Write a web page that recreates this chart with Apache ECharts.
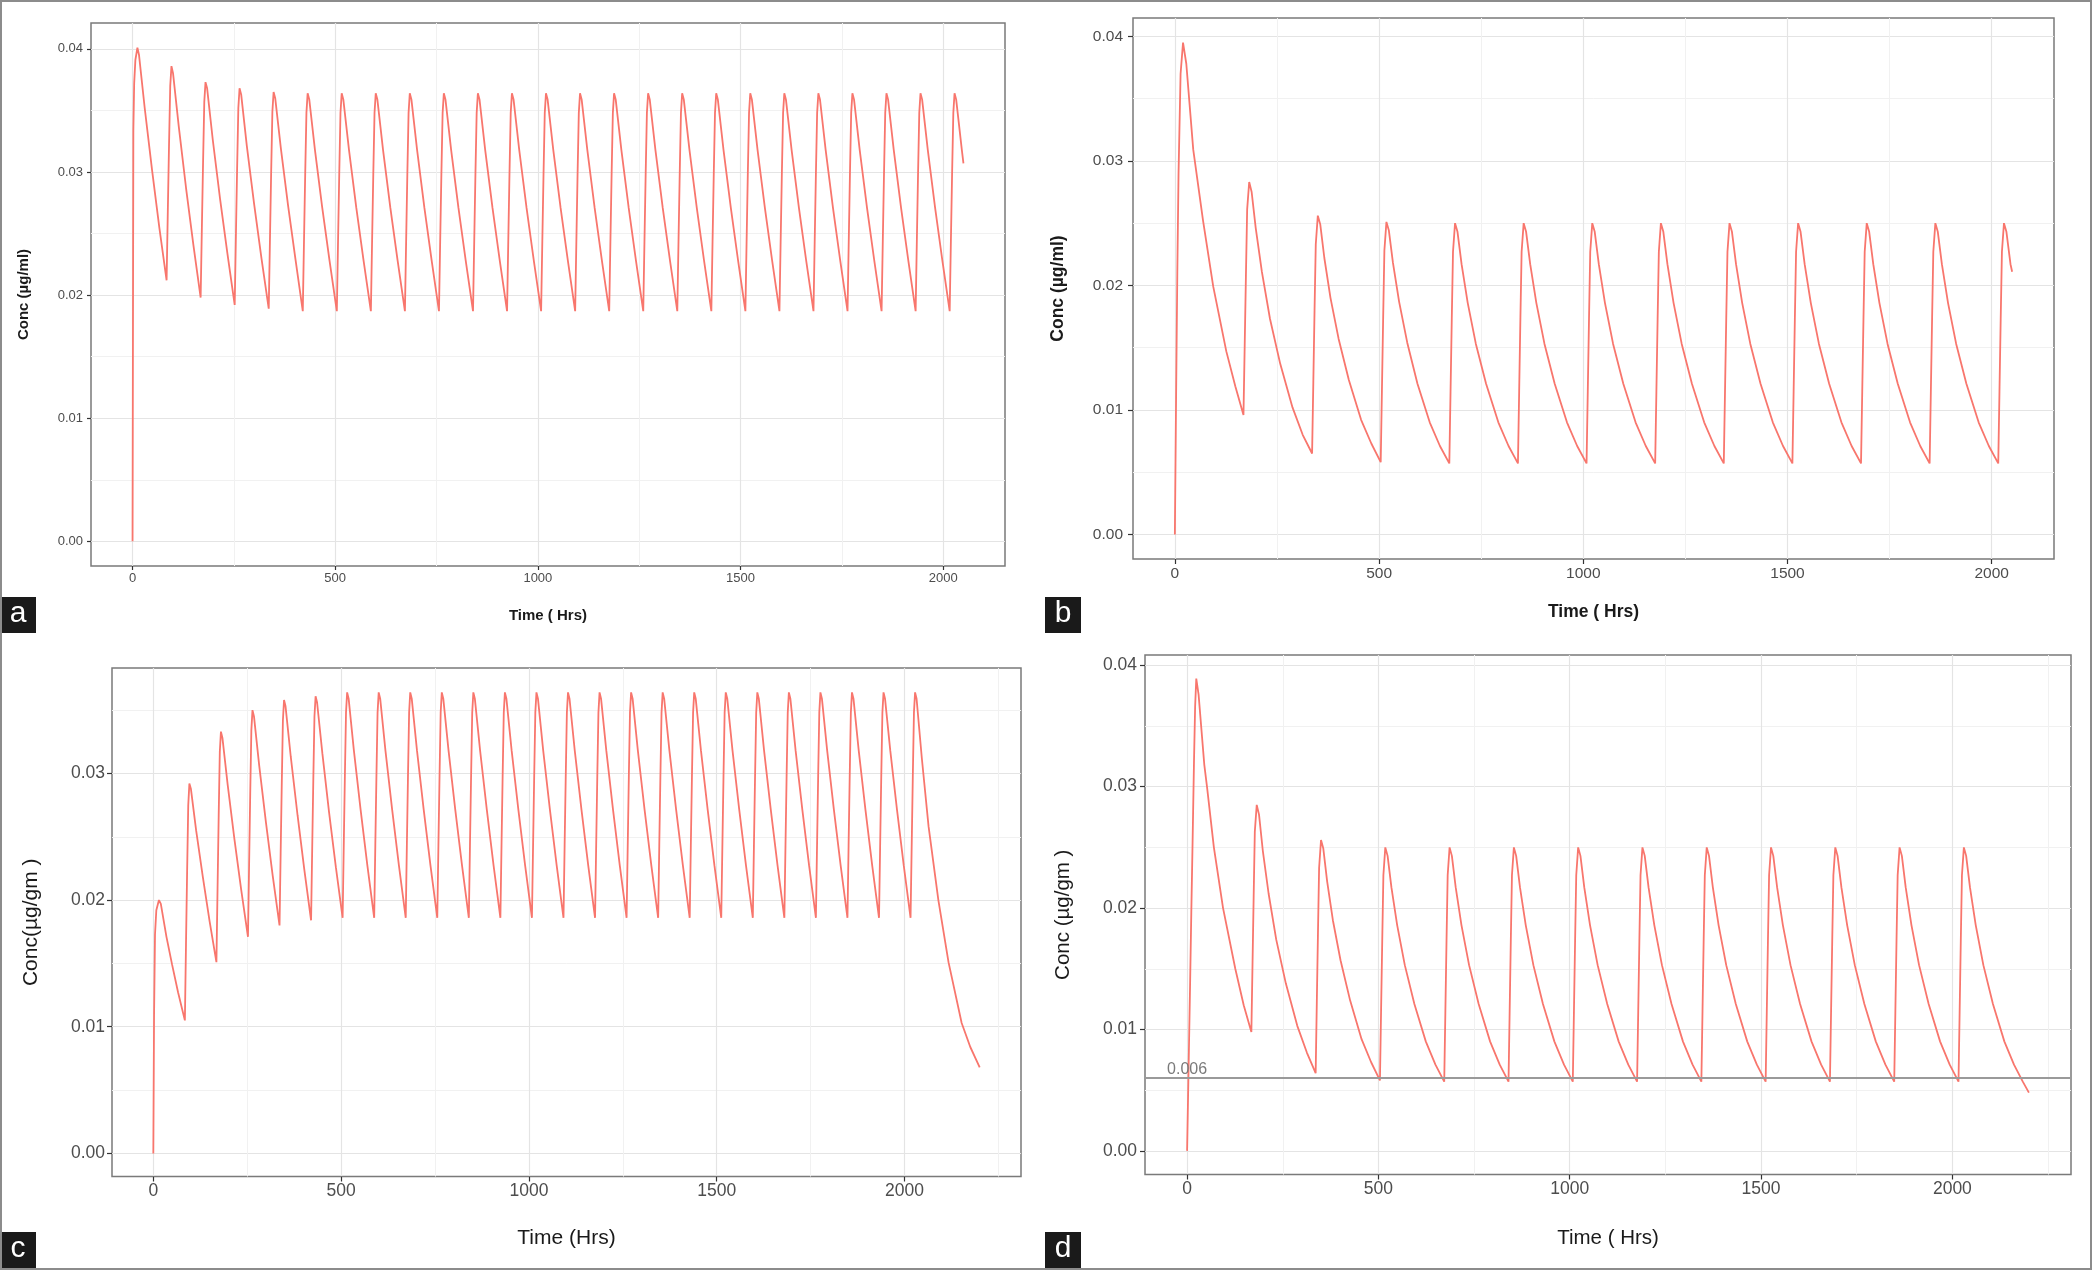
<!DOCTYPE html>
<html><head><meta charset="utf-8">
<script src="https://cdn.jsdelivr.net/npm/echarts@6/dist/echarts.min.js"></script>
<style>html,body{margin:0;padding:0;background:#fff}#chart{width:2092px;height:1270px}</style>
</head><body><div id="chart"></div>
<script>
// ---------- tick labels ----------
const xTicks = [0, 500, 1000, 1500, 2000];
const xMinorAB = [250, 750, 1250, 1750];
const xMinorCD = [250, 750, 1250, 1750, 2250];
const yTicks4 = [0, 0.01, 0.02, 0.03, 0.04];
const yTicks3 = [0, 0.01, 0.02, 0.03];
const yMinor = [0.005, 0.015, 0.025, 0.035];

// ---------- panel a (dose every 84 h) ----------
const aFirst = [[0,0],[2,0.0334],[4,0.0372],[7,0.0391],[12,0.0401],[16,0.0395],[30,0.0352],[48,0.0302],[66,0.0255]];
const aOffsets = [0,3,6,9,12,16,30,48,66];
const aDoses = [84,168,252,336,420,504,588,672,756,840,924,1008,1092,1176,1260,1344,1428,1512,1596,1680,1764,1848,1932,2016];
const a2 = [0.0212,0.0268,0.0322,0.0370,0.0386,0.0380,0.0337,0.0287,0.0241];
const a3 = [0.0198,0.0254,0.0308,0.0357,0.0373,0.0368,0.0326,0.0278,0.0234];
const a4 = [0.0192,0.0248,0.0303,0.0352,0.0368,0.0363,0.0321,0.0274,0.0230];
const a5 = [0.0189,0.0245,0.0300,0.0349,0.0365,0.0360,0.0319,0.0272,0.0229];
const aSteady = [0.0187,0.0244,0.0299,0.0348,0.0364,0.0359,0.0318,0.0271,0.0228];
const aTail = [[2050,0.0307]];

// ---------- panel b (dose every 168 h) ----------
const bFirst = [[0,0],[3,0.0110],[6,0.0210],[9,0.0290],[14,0.0370],[20,0.0395],[28,0.0378],[45,0.0309],[69,0.0252],[94,0.0199],[126,0.0147],[148,0.0119]];
const bOffsets = [0,3,6,9,14,20,30,45,65,90,120,145];
const bDoses = [168,336,504,672,840,1008,1176,1344,1512,1680,1848,2016];
const b2 = [0.0096,0.0152,0.0208,0.0261,0.0283,0.0275,0.0246,0.0211,0.0173,0.0137,0.0102,0.0080];
const b3 = [0.0065,0.0122,0.0180,0.0233,0.0256,0.0249,0.0222,0.0190,0.0157,0.0124,0.0092,0.0073];
const b4 = [0.0058,0.0116,0.0174,0.0228,0.0251,0.0244,0.0218,0.0187,0.0154,0.0121,0.0090,0.0071];
const bSteady = [0.0057,0.0115,0.0173,0.0227,0.0250,0.0243,0.0217,0.0186,0.0153,0.0121,0.0090,0.0071];
const bTail = [[2050,0.0211]];

// ---------- panel c (dose every 84 h, washout tail) ----------
const cFirst = [[0,0],[2,0.0110],[4.5,0.0173],[8,0.0192],[15,0.0200],[20,0.0197],[35,0.0171],[50,0.0149],[66,0.0127]];
const cOffsets = [0,3,6,9,12,16,30,48,66];
const cDoses = [84,168,252,336,420,504,588,672,756,840,924,1008,1092,1176,1260,1344,1428,1512,1596,1680,1764,1848,1932];
const c2 = [0.0105,0.0165,0.0223,0.0275,0.0292,0.0288,0.0255,0.0218,0.0183];
const c3 = [0.0151,0.0209,0.0266,0.0317,0.0333,0.0328,0.0291,0.0248,0.0208];
const c4 = [0.0171,0.0228,0.0284,0.0334,0.0350,0.0345,0.0306,0.0261,0.0219];
const c5 = [0.0180,0.0237,0.0292,0.0342,0.0358,0.0353,0.0313,0.0267,0.0224];
const c6 = [0.0184,0.0241,0.0296,0.0345,0.0361,0.0356,0.0316,0.0269,0.0226];
const cSteady = [0.0186,0.0243,0.0298,0.0348,0.0364,0.0359,0.0318,0.0271,0.0227];
const cTail = [[2016,0.0186],[2019,0.0243],[2022,0.0298],[2025,0.0348],[2028,0.0364],[2032,0.0359],[2046,0.0312],[2064,0.0258],[2090,0.0200],[2117,0.0151],[2152,0.0103],[2175,0.0084],[2200,0.0068]];

// ---------- panel d (dose every 168 h, washout tail, 0.006 threshold) ----------
const dFirst = [[0,0],[4,0.0070],[8,0.0140],[11,0.0196],[14,0.0248],[18,0.0320],[21,0.0366],[24,0.0389],[30,0.0376],[45,0.0318],[52,0.0300],[70,0.0250],[94,0.0200],[126,0.0150],[148,0.0120]];
const dOffsets = [0,3,6,9,14,20,30,45,65,90,120,145];
const dDoses = [168,336,504,672,840,1008,1176,1344,1512,1680,1848,2016];
const d2 = [0.0098,0.0154,0.0210,0.0263,0.0285,0.0277,0.0247,0.0212,0.0174,0.0138,0.0103,0.0081];
const d3 = [0.0064,0.0122,0.0179,0.0233,0.0256,0.0249,0.0222,0.0190,0.0157,0.0124,0.0092,0.0073];
const d4 = [0.0058,0.0116,0.0173,0.0227,0.0250,0.0243,0.0217,0.0186,0.0153,0.0121,0.0090,0.0071];
const dSteady = [0.0057,0.0115,0.0173,0.0227,0.0250,0.0243,0.0217,0.0186,0.0153,0.0121,0.0090,0.0071];
const dTail = [[2184,0.0057],[2200,0.0048]];
const dThreshold = 0.006;
const dThresholdLabel = {x:0, y:0.00668, text:'0.006'};

// ---------- build ----------
const rep = (v, n) => Array.from({length: n}, () => v);
const aCycles = [a2, a3, a4, a5].concat(rep(aSteady, 20));
const bCycles = [b2, b3, b4].concat(rep(bSteady, 9));
const cCycles = [c2, c3, c4, c5, c6].concat(rep(cSteady, 18));
const dCycles = [d2, d3, d4].concat(rep(dSteady, 9));

function build(first, doses, offsets, cycles, tail) {
  const limit = tail[0][0];
  const pts = first.slice();
  doses.forEach((t0, i) => {
    offsets.forEach((o, j) => {
      if (t0 + o < limit) pts.push([t0 + o, cycles[i][j]]);
    });
  });
  return pts.concat(tail);
}
const aData = build(aFirst, aDoses, aOffsets, aCycles, aTail);
const bData = build(bFirst, bDoses, bOffsets, bCycles, bTail);
const cData = build(cFirst, cDoses, cOffsets, cCycles, cTail);
const dData = build(dFirst, dDoses, dOffsets, dCycles, dTail);

const FONT = 'Liberation Sans, Arial, sans-serif';
const LINE = '#F8766D';

const panels = [
  {grid:{left:91, top:23, width:914, height:543}, xr:[-102.5,2152.5], yr:[-0.002005,0.042105],
   yt:yTicks4, xm:xMinorAB, lab:13, tick:4, ym:8, xmg:6,
   xName:'Time ( Hrs)', yName:'Conc (µg/ml)', nameSize:15, bold:true, xGap:42, yGap:60, data:aData},
  {grid:{left:1133, top:18, width:921, height:541}, xr:[-102.5,2152.5], yr:[-0.001975,0.041475],
   yt:yTicks4, xm:xMinorAB, lab:15.5, tick:5, ym:10, xmg:7,
   xName:'Time ( Hrs)', yName:'Conc (µg/ml)', nameSize:17.5, bold:true, xGap:44, yGap:66, data:bData},
  {grid:{left:112, top:668, width:909, height:508.5}, xr:[-110,2310], yr:[-0.001825,0.038325],
   yt:yTicks3, xm:xMinorCD, lab:17.5, tick:5, ym:7, xmg:6,
   xName:'Time (Hrs)', yName:'Conc(µg/gm )', nameSize:21, bold:false, xGap:51, yGap:70, data:cData},
  {grid:{left:1145, top:655, width:926, height:519.5}, xr:[-110,2310], yr:[-0.001945,0.040845],
   yt:yTicks4, xm:xMinorCD, lab:17.5, tick:5, ym:8, xmg:6,
   xName:'Time ( Hrs)', yName:'Conc (µg/gm )', nameSize:20.5, bold:false, xGap:53, yGap:71, data:dData}
];

const grid = [], xAxis = [], yAxis = [], series = [];
panels.forEach((p, i) => {
  grid.push(Object.assign({show:true, borderColor:'#7a7a7a', borderWidth:1.5, backgroundColor:'#fff', containLabel:false}, p.grid));
  const nameStyle = {fontSize:p.nameSize, fontWeight:p.bold ? 'bold' : 'normal', color:'#1a1a1a', fontFamily:FONT};
  xAxis.push({
    type:'value', gridIndex:i, min:p.xr[0], max:p.xr[1], position:'bottom',
    axisLine:{show:false, onZero:false},
    axisTick:{show:true, inside:false, length:p.tick, customValues:xTicks, lineStyle:{color:'#333', width:1.2}},
    axisLabel:{customValues:xTicks, fontSize:p.lab, color:'#4d4d4d', margin:p.xmg, fontFamily:FONT, formatter:v => String(v)},
    splitLine:{show:true, lineStyle:{color:'#e4e4e4', width:1.2}},
    name:p.xName, nameLocation:'middle', nameGap:p.xGap, nameTextStyle:nameStyle
  });
  xAxis.push({
    type:'value', gridIndex:i, min:p.xr[0], max:p.xr[1], position:'top',
    axisLine:{show:false, onZero:false}, axisTick:{show:false, customValues:p.xm},
    axisLabel:{show:false, customValues:p.xm},
    splitLine:{show:true, lineStyle:{color:'#f1f1f1', width:1}}
  });
  yAxis.push({
    type:'value', gridIndex:i, min:p.yr[0], max:p.yr[1], position:'left',
    axisLine:{show:false, onZero:false},
    axisTick:{show:true, inside:false, length:p.tick, customValues:p.yt, lineStyle:{color:'#333', width:1.2}},
    axisLabel:{customValues:p.yt, fontSize:p.lab, color:'#4d4d4d', margin:p.ym, fontFamily:FONT, formatter:v => v.toFixed(2)},
    splitLine:{show:true, lineStyle:{color:'#e4e4e4', width:1.2}},
    name:p.yName, nameLocation:'middle', nameGap:p.yGap, nameRotate:90, nameTextStyle:nameStyle
  });
  yAxis.push({
    type:'value', gridIndex:i, min:p.yr[0], max:p.yr[1], position:'right',
    axisLine:{show:false, onZero:false}, axisTick:{show:false, customValues:yMinor},
    axisLabel:{show:false, customValues:yMinor},
    splitLine:{show:true, lineStyle:{color:'#f1f1f1', width:1}}
  });
  const s = {
    type:'line', xAxisIndex:2*i, yAxisIndex:2*i, data:p.data, showSymbol:false, symbol:'none',
    lineStyle:{color:LINE, width:1.8}, itemStyle:{color:LINE}, silent:true, z:3
  };
  if (i === 3) {
    s.markLine = {silent:true, symbol:'none', precision:4, label:{show:false},
      lineStyle:{color:'#9a9a9a', width:1.8, type:'solid'}, data:[{yAxis:dThreshold}], animation:false};
    s.markPoint = {silent:true, symbol:'circle', symbolSize:0,
      data:[{coord:[dThresholdLabel.x, dThresholdLabel.y], value:dThresholdLabel.text}],
      label:{show:true, position:'inside', formatter:dThresholdLabel.text, color:'#7a7a7a', fontSize:16, fontFamily:FONT},
      animation:false};
  }
  series.push(s);
});

const boxes = [
  {x:0, y:597, t:'a'}, {x:1045, y:597, t:'b'}, {x:0, y:1232, t:'c'}, {x:1045, y:1232, t:'d'}
];
const graphic = [];
boxes.forEach(b => {
  graphic.push({type:'rect', left:b.x, top:b.y, shape:{width:36, height:36}, style:{fill:'#1a1a1a'}, z:10});
  graphic.push({type:'text', x:b.x + 18, y:b.y + 17, z:11,
    style:{text:b.t, fill:'#fff', font:'30px ' + FONT, textAlign:'center', textVerticalAlign:'middle'}});
});
graphic.push({type:'rect', shape:{x:1, y:1, width:2090, height:1268}, style:{fill:'none', stroke:'#8c8c8c', lineWidth:2}, z:12, silent:true});

const chart = echarts.init(document.getElementById('chart'), null, {renderer:'canvas'});
chart.setOption({
  backgroundColor:'#fff', animation:false,
  textStyle:{fontFamily:FONT},
  grid, xAxis, yAxis, series, graphic
});
</script></body></html>
